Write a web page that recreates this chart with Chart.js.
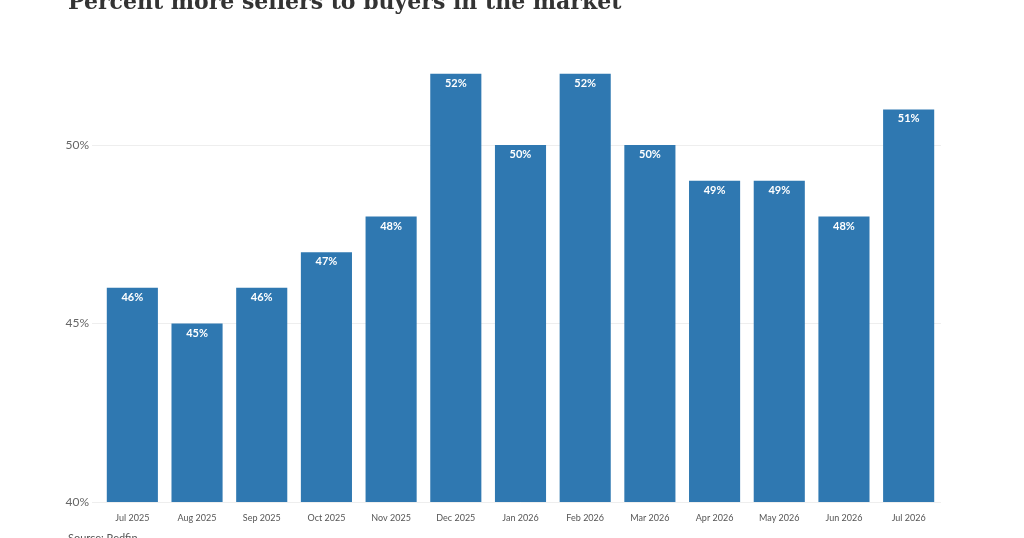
<!DOCTYPE html>
<html>
<head>
<meta charset="utf-8">
<script src="https://cdn.jsdelivr.net/npm/chart.js@4"></script>
<style>
    html, body { margin: 0; padding: 0; background: #fff; overflow: hidden; }
    #wrap { position: relative; width: 1024px; height: 538px; }
    #title { position: absolute; left: 68px; top: -12px; font: bold 22px "DejaVu Serif", serif; color: #333; white-space: nowrap; }
    #source { position: absolute; left: 68px; top: 531px; font: 11px Lato, sans-serif; color: #555; }
    canvas { position: absolute; left: 0; top: 0; }
</style>
</head>
<body>
<div id="wrap">
    <canvas id="chart" width="1024" height="538"></canvas>
    <div id="title">Percent more sellers to buyers in the market</div>
    <div id="source">Source: Redfin</div>
</div>
<script>
const months = ["Jul 2025", "Aug 2025", "Sep 2025", "Oct 2025", "Nov 2025", "Dec 2025", "Jan 2026",
    "Feb 2026", "Mar 2026", "Apr 2026", "May 2026", "Jun 2026", "Jul 2026"];
const sellerSurplus = [46, 45, 46, 47, 48, 52, 50, 52, 50, 49, 49, 48, 51];
const yTicks = [40, 45, 50];

// white value labels at the top of each bar
const barLabels = {
    id: "barLabels",
    afterDatasetsDraw: function (chart) {
        const ctx = chart.ctx;
        const meta = chart.getDatasetMeta(0);
        ctx.save();
        ctx.font = "bold 11px Lato, sans-serif";
        ctx.fillStyle = "#fff";
        ctx.textAlign = "center";
        ctx.textBaseline = "top";
        meta.data.forEach(function (bar, i) {
            ctx.fillText(sellerSurplus[i] + "%", bar.x, bar.y + 4);
        });
        ctx.restore();
    }
};

new Chart(document.getElementById("chart"), {
    type: "bar",
    data: {
        labels: months,
        datasets: [{
            data: sellerSurplus,
            backgroundColor: "#2f78b1",
            barPercentage: 0.79,
            categoryPercentage: 1
        }]
    },
    options: {
        responsive: false,
        animation: false,
        layout: { padding: { left: 60, right: 83, top: 38, bottom: 0 } },
        plugins: { legend: { display: false }, tooltip: { enabled: false } },
        scales: {
            x: {
                grid: { display: false },
                border: { display: false },
                ticks: { color: "#555", font: { family: "Lato", size: 9 }, maxRotation: 0 },
                afterFit: function (s) { s.height = 36; }
            },
            y: {
                min: 40,
                max: 53,
                afterBuildTicks: function (s) { s.ticks = yTicks.map(function (v) { return { value: v }; }); },
                grid: { color: "#eeeeee" },
                border: { display: false },
                ticks: { color: "#666", font: { family: "Lato", size: 12 }, callback: function (v) { return v + "%"; } },
                afterFit: function (s) { s.width = 40; }
            }
        }
    },
    plugins: [barLabels]
});
</script>
</body>
</html>
